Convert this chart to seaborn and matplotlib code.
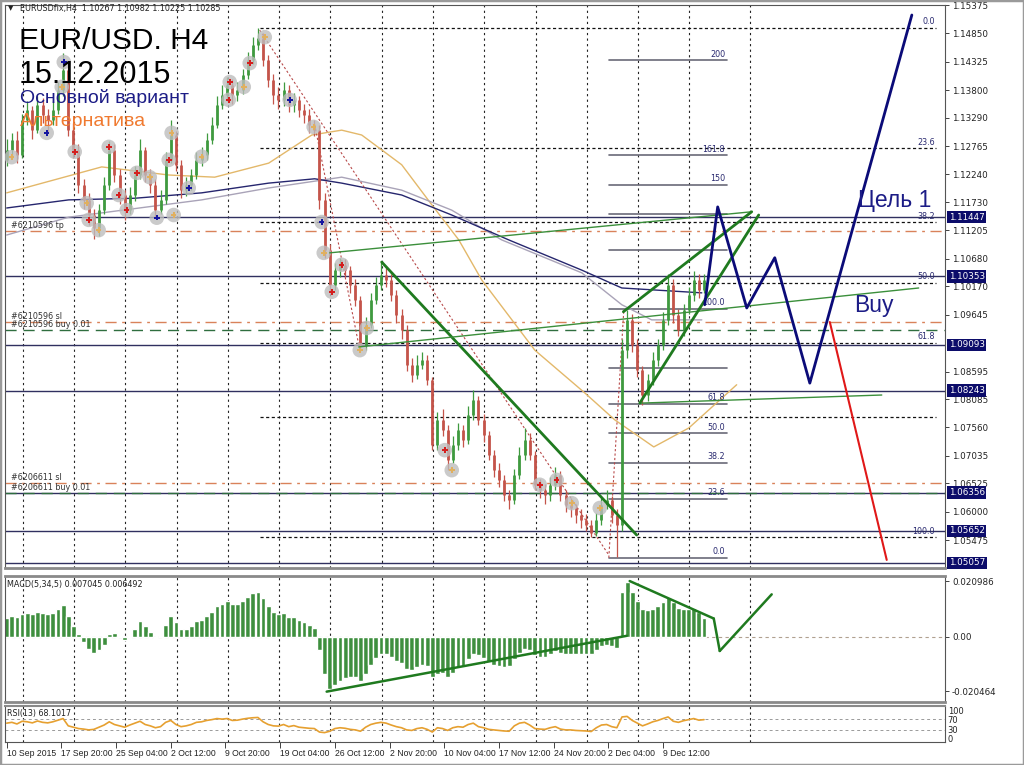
import numpy as np
import pandas as pd
import matplotlib
matplotlib.use("Agg")
import matplotlib.pyplot as plt
import matplotlib.transforms as mtransforms
from matplotlib.patches import Rectangle
import seaborn as sns

sns.set_theme(style="white")
plt.rcParams['font.family'] = ['DejaVu Sans']

# ---------------- data ----------------
BARS_PER_CANDLE = 3          # one drawn candle = 3 H4 bars
open_first = 1.1250
closes = [1.1269, 1.1288, 1.1260, 1.1325, 1.1343, 1.1306, 1.1353, 1.1334, 1.1325, 1.1343,
          1.1380, 1.1417, 1.1306, 1.1269, 1.1205, 1.1177, 1.1149, 1.1125, 1.1158, 1.1205,
          1.1269, 1.1223, 1.1186, 1.1158, 1.1186, 1.1223, 1.1269, 1.1223, 1.1205, 1.1158,
          1.1177, 1.1251, 1.1297, 1.1242, 1.1195, 1.1205, 1.1223, 1.1251, 1.1260, 1.1288,
          1.1316, 1.1353, 1.1371, 1.1390, 1.1371, 1.1380, 1.1408, 1.1436, 1.1464, 1.1477,
          1.1436, 1.1399, 1.1371, 1.1362, 1.1380, 1.1353, 1.1362, 1.1343, 1.1334, 1.1316,
          1.1306, 1.1177, 1.1084, 1.1020, 1.1047, 1.1057, 1.1047, 1.1020, 1.0992, 1.0909,
          1.0946, 1.0992, 1.1020, 1.1038, 1.1029, 1.1001, 1.0964, 1.0936, 1.0872, 1.0853,
          1.0872, 1.0881, 1.0844, 1.0724, 1.0770, 1.0751, 1.0696, 1.0724, 1.0751, 1.0733,
          1.0779, 1.0807, 1.0770, 1.0742, 1.0705, 1.0677, 1.0659, 1.0631, 1.0622, 1.0668,
          1.0705, 1.0733, 1.0705, 1.0650, 1.0640, 1.0631, 1.0650, 1.0668, 1.0631, 1.0613,
          1.0607, 1.0594, 1.0585, 1.0576, 1.0561, 1.0585, 1.0613, 1.0622, 1.0594, 1.0576,
          1.0899, 1.0955, 1.0909, 1.0862, 1.0816, 1.0844, 1.0881, 1.0909, 1.0955, 1.1020,
          1.0964, 1.0936, 1.0973, 1.1001, 1.1029, 1.1010, 1.1029]
highs = [1.1290, 1.1300, 1.1305, 1.1335, 1.1360, 1.1350, 1.1370, 1.1365, 1.1345, 1.1360,
         1.1395, 1.1449, 1.1430, 1.1320, 1.1280, 1.1215, 1.1190, 1.1160, 1.1170, 1.1220,
         1.1285, 1.1280, 1.1235, 1.1195, 1.1200, 1.1240, 1.1290, 1.1275, 1.1235, 1.1215,
         1.1195, 1.1265, 1.1325, 1.1305, 1.1250, 1.1220, 1.1235, 1.1265, 1.1275, 1.1300,
         1.1330, 1.1370, 1.1390, 1.1405, 1.1400, 1.1395, 1.1420, 1.1450, 1.1478, 1.1495,
         1.1485, 1.1445, 1.1410, 1.1385, 1.1395, 1.1390, 1.1375, 1.1370, 1.1355, 1.1345,
         1.1325, 1.1315, 1.1190, 1.1095, 1.1060, 1.1070, 1.1068, 1.1055, 1.1030, 1.1000,
         1.0960, 1.1005, 1.1035, 1.1062, 1.1055, 1.1040, 1.1010, 1.0975, 1.0945, 1.0885,
         1.0890, 1.0895, 1.0890, 1.0850, 1.0785, 1.0790, 1.0760, 1.0740, 1.0765, 1.0760,
         1.0795, 1.0825, 1.0815, 1.0780, 1.0750, 1.0715, 1.0690, 1.0668, 1.0640, 1.0680,
         1.0720, 1.0755, 1.0745, 1.0712, 1.0660, 1.0652, 1.0665, 1.0683, 1.0675, 1.0640,
         1.0625, 1.0615, 1.0605, 1.0595, 1.0585, 1.0598, 1.0625, 1.0640, 1.0630, 1.0605,
         1.0920, 1.0973, 1.0965, 1.0920, 1.0870, 1.0855, 1.0895, 1.0920, 1.0970, 1.1040,
         1.1030, 1.0975, 1.0985, 1.1015, 1.1045, 1.1040, 1.1040]
lows = [1.1240, 1.1255, 1.1245, 1.1255, 1.1315, 1.1290, 1.1300, 1.1320, 1.1300, 1.1315,
        1.1335, 1.1370, 1.1295, 1.1255, 1.1190, 1.1160, 1.1130, 1.1105, 1.1110, 1.1150,
        1.1195, 1.1210, 1.1170, 1.1140, 1.1150, 1.1175, 1.1215, 1.1210, 1.1190, 1.1145,
        1.1150, 1.1170, 1.1245, 1.1230, 1.1180, 1.1185, 1.1195, 1.1215, 1.1240, 1.1250,
        1.1280, 1.1310, 1.1345, 1.1360, 1.1355, 1.1360, 1.1372, 1.1400, 1.1428, 1.1455,
        1.1425, 1.1385, 1.1355, 1.1345, 1.1350, 1.1340, 1.1340, 1.1330, 1.1320, 1.1300,
        1.1295, 1.1160, 1.1070, 1.1005, 1.1010, 1.1035, 1.1035, 1.1005, 1.0980, 1.0897,
        1.0900, 1.0940, 1.0985, 1.1010, 1.1015, 1.0990, 1.0950, 1.0920, 1.0860, 1.0840,
        1.0845, 1.0865, 1.0835, 1.0715, 1.0715, 1.0740, 1.0677, 1.0690, 1.0715, 1.0720,
        1.0725, 1.0770, 1.0760, 1.0730, 1.0695, 1.0665, 1.0645, 1.0620, 1.0605, 1.0615,
        1.0660, 1.0695, 1.0695, 1.0640, 1.0625, 1.0615, 1.0620, 1.0640, 1.0620, 1.0600,
        1.0590, 1.0580, 1.0570, 1.0565, 1.0554, 1.0555, 1.0575, 1.0605, 1.0580, 1.0516,
        1.0565, 1.0885, 1.0895, 1.0850, 1.0798, 1.0805, 1.0835, 1.0870, 1.0900, 1.0945,
        1.0950, 1.0925, 1.0925, 1.0965, 1.0990, 1.0995, 1.1005]

macd_hist = [0.0070, 0.0080, 0.0075, 0.0085, 0.0090, 0.0085, 0.0095, 0.0090, 0.0085, 0.0090,
             0.0105, 0.0120, 0.0080, 0.0040, 0.0010, -0.0020, -0.0045, -0.0060, -0.0050, -0.0030,
             0.0010, 0.0015, 0.0005, -0.0010, 0.0005, 0.0030, 0.0060, 0.0040, 0.0020, -0.0005,
             0.0005, 0.0045, 0.0080, 0.0055, 0.0030, 0.0030, 0.0040, 0.0060, 0.0065, 0.0080,
             0.0095, 0.0115, 0.0125, 0.0135, 0.0125, 0.0125, 0.0135, 0.0150, 0.0165, 0.0170,
             0.0145, 0.0115, 0.0095, 0.0085, 0.0090, 0.0075, 0.0075, 0.0065, 0.0055, 0.0045,
             0.0035, -0.0050, -0.0140, -0.0195, -0.0180, -0.0165, -0.0155, -0.0150, -0.0150, -0.0165,
             -0.0140, -0.0105, -0.0080, -0.0065, -0.0065, -0.0075, -0.0090, -0.0100, -0.0120, -0.0125,
             -0.0115, -0.0105, -0.0110, -0.0150, -0.0140, -0.0135, -0.0150, -0.0135, -0.0115, -0.0110,
             -0.0085, -0.0065, -0.0070, -0.0080, -0.0095, -0.0105, -0.0110, -0.0115, -0.0110, -0.0085,
             -0.0060, -0.0045, -0.0050, -0.0070, -0.0075, -0.0075, -0.0065, -0.0055, -0.0060, -0.0065,
             -0.0065, -0.0065, -0.0065, -0.0065, -0.0065, -0.0050, -0.0035, -0.0030, -0.0035, -0.0040,
             0.0170, 0.0205, 0.0170, 0.0135, 0.0105, 0.0100, 0.0105, 0.0115, 0.0130, 0.0150,
             0.0130, 0.0110, 0.0105, 0.0105, 0.0110, 0.0095, 0.0070]

rsi = [55, 58, 52, 62, 60, 56, 63, 58, 56, 60, 66, 72,
       45, 40, 35, 33, 30, 32, 40, 48,
       60, 50, 45, 40, 48, 55, 62, 50, 45, 38, 42,
       58, 65, 50, 42, 45, 50, 58, 60, 65, 68,
       72, 70, 72, 65, 66, 70, 73, 75, 76,
       60, 50, 45, 44, 50, 42, 46, 40, 38, 36, 35,
       22, 20, 25, 35, 38, 36, 32, 30, 25,
       40, 50, 55, 58, 55, 48, 42, 38, 30, 28, 35, 38, 32,
       22, 38, 35, 28, 38, 42, 40, 50, 55, 42, 38, 32, 30, 28, 26, 25,
       45, 55, 58, 48, 35, 33, 32, 38, 42, 33, 30, 30, 28, 27, 26, 24, 38, 48, 50, 42, 38,
       78, 80, 65, 55, 45, 52, 60, 65, 72, 78, 62, 58, 64, 68, 72, 66, 68]

# moving averages (H4 bar index, price)
ma_tan_bar = [0, 55.6, 94.8, 121.7, 153.3, 178.5, 196.0, 207.7, 231.1, 248.7, 264.5, 277.9, 309.0, 338.2, 355.8, 378.6, 399.1, 427.1]
ma_tan_px = [1.1190, 1.1238, 1.1223, 1.1219, 1.1245, 1.1297, 1.1306, 1.1297, 1.1242, 1.1168, 1.1103, 1.1029, 1.0899, 1.0820, 1.0770, 1.0720, 1.0755, 1.0835]
ma_navy_bar = [0, 36.3, 74.9, 114.1, 153.3, 180.2, 196.0, 231.1, 260.4, 293.7, 336.5, 359.9, 406.7]
ma_navy_px = [1.1162, 1.1177, 1.1180, 1.1190, 1.1208, 1.1216, 1.1208, 1.1186, 1.1149, 1.1103, 1.1047, 1.1014, 1.1005]
ma_gray_bar = [0, 36.3, 114.1, 153.3, 196.0, 231.1, 260.4, 289.6, 336.5, 359.9, 377.4, 406.7]
ma_gray_px = [1.1112, 1.1145, 1.1177, 1.1199, 1.1219, 1.1195, 1.1158, 1.1103, 1.1042, 1.0983, 1.0955, 1.0955]

# horizontal levels
level_lines = [1.11447, 1.10353, 1.09093, 1.08243, 1.06356, 1.05652, 1.05057]
order_sl_tp = [1.1119, 1.0951, 1.0653]
order_open = [1.0936, 1.0635]

# Fibonacci retracement
fib_hi, fib_lo = 1.1495, 1.0553
fib_start, fib_end = 148.0, 544.0
fib_levels = [0.0, 23.6, 38.2, 50.0, 61.8, 76.4, 100.0]
fib_labels = ["0.0", "23.6", "38.2", "50.0", "61.8", "", "100.0"]
# Fibonacci extension
ext_lo, ext_hi = 1.0515, 1.0975
ext_start, ext_end = 352.3, 421.3
ext_levels = [0.0, 23.6, 38.2, 50.0, 61.8, 76.4, 100.0, 123.6, 138.2, 150.0, 161.8, 200.0]
ext_labels = ["0.0", "23.6", "38.2", "50.0", "61.8", "", "100.0", "", "", "150", "161.8", "200"]

# dotted diagonals (zigzag / fib anchors)
diag_lines = [((148.0, 1.1491), (352.3, 1.0520)),
              ((180.2, 1.1316), (206.6, 1.0899)),
              ((352.3, 1.0515), (361.1, 1.0975))]
# green trend lines: (p1, p2, thick)
trend_lines = [((219.4, 1.1062), (368.6, 1.0557), True),
               ((189.0, 1.1079), (435.9, 1.1155), False),
               ((206.0, 1.0905), (533.6, 1.1014), False),
               ((370.4, 1.0801), (512.0, 1.0816), False),
               ((360.8, 1.0970), (435.9, 1.1155), True),
               ((370.4, 1.0801), (440.0, 1.1149), True)]
main_path_bar = [408.4, 416.0, 433.0, 449.4, 469.9, 529.6]
main_path_px = [1.0983, 1.1164, 1.0977, 1.1070, 1.0838, 1.1519]
alt_path_bar = [481.6, 514.9]
alt_path_px = [1.0951, 1.0511]

macd_lines = [((187.2, -0.0206), (362.8, 0.0004)),
              ((364.5, 0.0210), (413.7, 0.0069)),
              ((413.7, 0.0069), (417.2, -0.0053)),
              ((417.2, -0.0053), (447.6, 0.0160))]

# trade markers (bar, price, kind)
mk_bar = [2.9, 23.4, 33.4, 32.2, 39.8, 46.8, 48.0, 53.8, 59.7, 65.5, 70.2, 76.1, 83.7, 87.8, 97.7,
          94.8, 96.5, 106.5, 114.1, 130.5, 129.9, 138.7, 142.2, 151.0, 165.6, 179.6, 184.3, 185.5,
          196.0, 190.2, 210.7, 206.6, 256.3, 260.4, 311.9, 321.8, 330.6, 347.0]
mk_px = [1.1256, 1.1301, 1.1432, 1.1386, 1.1266, 1.1171, 1.1140, 1.1121, 1.1275, 1.1186, 1.1158,
         1.1227, 1.1219, 1.1144, 1.1149, 1.1251, 1.1301, 1.1199, 1.1257, 1.1395, 1.1362, 1.1386,
         1.1430, 1.1478, 1.1362, 1.1312, 1.1136, 1.1079, 1.1057, 1.1007, 1.0940, 1.0899, 1.0714,
         1.0677, 1.0650, 1.0659, 1.0616, 1.0607]
mk_kind = ["tan", "blue", "blue", "tan", "red", "tan", "red", "tan", "red", "red", "red", "red",
           "tan", "blue", "tan", "red", "tan", "blue", "tan", "red", "red", "tan", "red", "tan",
           "blue", "tan", "blue", "tan", "red", "red", "tan", "tan", "red", "tan", "red", "red",
           "tan", "tan"]

price_ticks = [1.15375, 1.14850, 1.14325, 1.13800, 1.13290, 1.12765, 1.12240, 1.11730, 1.11205,
               1.10680, 1.10170, 1.09645, 1.08595, 1.08085, 1.07560, 1.07035, 1.06525, 1.06000, 1.05475]
date_tick_bars = [0, 32, 64, 96, 128, 160, 192, 224, 256, 288, 320, 352, 384]
date_labels = ["10 Sep 2015", "17 Sep 20:00", "25 Sep 04:00", "2 Oct 12:00", "9 Oct 20:00",
               "19 Oct 04:00", "26 Oct 12:00", "2 Nov 20:00", "10 Nov 04:00", "17 Nov 12:00",
               "24 Nov 20:00", "2 Dec 04:00", "9 Dec 12:00"]
grid_bars = [9.4, 39.4, 69.4, 99.4, 129.4, 159.4, 189.4, 219.4, 249.4, 279.4, 309.4, 339.4, 369.4, 399.4, 435.0]

# ---------------- figure ----------------
W, H = 1024, 765
fig = plt.figure(figsize=(W / 100, H / 100), dpi=100)
fig.patch.set_facecolor("white")

def fx(p):
    return p / W

def fy(p):
    return 1 - p / H

L, R = 5, 945
ax = fig.add_axes([fx(L), fy(568), fx(R) - fx(L), fy(5) - fy(568)])
axm = fig.add_axes([fx(L), fy(702), fx(R) - fx(L), fy(576) - fy(702)])
axr = fig.add_axes([fx(L), fy(742), fx(R) - fx(L), fy(706) - fy(742)])

XMIN, XMAX = -1, 549
for a in (ax, axm, axr):
    a.set_facecolor("white")
    a.set_xlim(XMIN, XMAX)
    for s in a.spines.values():
        s.set_color("#555555")
        s.set_linewidth(0.8)
    for g in grid_bars:
        a.axvline(g, color="#222222", lw=0.8, ls=(0, (2, 3)), zorder=0.5)
    a.yaxis.tick_right()
    a.tick_params(axis="y", which="both", direction="out", length=3, width=0.6, pad=2,
                  labelsize=6.3, colors="#222222", right=True, left=False)
    a.tick_params(axis="x", bottom=False, labelbottom=False)

ax.spines["bottom"].set_linewidth(2.0)
ax.spines["bottom"].set_color("#8a8a8a")
axm.spines["top"].set_linewidth(2.0)
axm.spines["top"].set_color("#8a8a8a")
axm.spines["bottom"].set_linewidth(2.0)
axm.spines["bottom"].set_color("#8a8a8a")
axr.spines["top"].set_linewidth(1.5)
axr.spines["top"].set_color("#8a8a8a")

# ---------------- main price panel ----------------
ax.set_ylim(1.0496, 1.15375)
ax.set_yticks(price_ticks)
ax.set_yticklabels([f"{p:.5f}" for p in price_ticks])

n = len(closes)
xs = np.arange(n) * BARS_PER_CANDLE
opens = [open_first] + closes[:-1]
up = np.array(closes) >= np.array(opens)
col = np.where(up, "#3f9a3f", "#c4544a")
ax.vlines(xs, lows, highs, colors=col, lw=0.9, zorder=3)
ax.vlines(xs, np.minimum(opens, closes), np.maximum(opens, closes), colors=col, lw=2.0, zorder=3)

# moving averages
sns.lineplot(x=ma_tan_bar, y=ma_tan_px, ax=ax, color="#e3b86a", lw=1.0, zorder=2)
sns.lineplot(x=ma_gray_bar, y=ma_gray_px, ax=ax, color="#a9a3b8", lw=1.0, zorder=2)
sns.lineplot(x=ma_navy_bar, y=ma_navy_px, ax=ax, color="#26266e", lw=1.0, zorder=2)

# horizontal levels
for lv in level_lines:
    ax.axhline(lv, color="#303060", lw=1.0, zorder=1)
for lv in order_sl_tp:
    ax.axhline(lv, color="#d9825a", lw=1.0, ls=(0, (8, 4, 2, 4)), zorder=1)
for lv in order_open:
    ax.axhline(lv, color="#2f6e3f", lw=1.0, ls=(0, (8, 5)), zorder=1)

# fib retracement
for lvl, lab in zip(fib_levels, fib_labels):
    p = fib_hi - (fib_hi - fib_lo) * lvl / 100
    ax.plot([fib_start, fib_end], [p, p], color="#111111", lw=0.9, ls=(0, (2.5, 2)), zorder=1.5)
    if lab:
        ax.text(fib_end - 1, p + 0.0003, lab, ha="right", va="bottom", fontsize=5.8, color="#2a2a70")
# fib extension
for lvl, lab in zip(ext_levels, ext_labels):
    p = ext_lo + (ext_hi - ext_lo) * lvl / 100
    ax.plot([ext_start, ext_end], [p, p], color="#6a6a78", lw=1.2, zorder=1.5)
    if lab:
        ax.text(ext_end - 1, p + 0.0003, lab, ha="right", va="bottom", fontsize=5.8, color="#2a2a70")

for (p1, p2) in diag_lines:
    ax.plot([p1[0], p2[0]], [p1[1], p2[1]], color="#b84a4a", lw=0.8, ls=(0, (2, 2)), zorder=2)

for (p1, p2, thick) in trend_lines:
    ax.plot([p1[0], p2[0]], [p1[1], p2[1]], color="#1f7a1f" if thick else "#3b8f3b",
            lw=2.0 if thick else 1.0, zorder=4)

# markers
mk_df = pd.DataFrame({"bar": mk_bar, "price": mk_px, "kind": mk_kind})
sns.scatterplot(data=mk_df, x="bar", y="price", ax=ax, s=110, color="#bdbdbd", alpha=0.8,
                edgecolor="none", zorder=3.5, legend=False)
sns.scatterplot(data=mk_df, x="bar", y="price", hue="kind", ax=ax, s=16, marker="P",
                palette={"red": "#d41f1f", "blue": "#1515a0", "tan": "#e0b060"},
                edgecolor="none", zorder=3.6, legend=False)

# projected paths
ax.plot(main_path_bar, main_path_px, color="#0b0b78", lw=2.0, zorder=5)
ax.plot(alt_path_bar, alt_path_px, color="#e01818", lw=1.5, zorder=5)

# level price boxes
btrans = mtransforms.blended_transform_factory(ax.transAxes, ax.transData)
for lv in level_lines:
    ax.text(1.004, lv, f"{lv:.5f}", transform=btrans, ha="left", va="center", fontsize=6.3,
            color="white", bbox=dict(boxstyle="square,pad=0.18", fc="#0c0c6a", ec="none"),
            clip_on=False, zorder=7)

# order labels
ltrans = mtransforms.blended_transform_factory(ax.transAxes, ax.transData)
ax.text(0.006, 1.1119 + 0.0002, "#6210596 tp", transform=ltrans, fontsize=5.8, color="#333333", va="bottom")
ax.text(0.006, 1.0951 + 0.0002, "#6210596 sl", transform=ltrans, fontsize=5.8, color="#333333", va="bottom")
ax.text(0.006, 1.0936 + 0.0002, "#6210596 buy 0.01", transform=ltrans, fontsize=5.8, color="#333333", va="bottom")
ax.text(0.006, 1.0653 + 0.0002, "#6206611 sl", transform=ltrans, fontsize=5.8, color="#333333", va="bottom")
ax.text(0.006, 1.0635 + 0.0002, "#6206611 buy 0.01", transform=ltrans, fontsize=5.8, color="#333333", va="bottom")

# ---------------- MACD ----------------
axm.set_ylim(-0.0245, 0.0229)
axm.bar(xs, macd_hist, width=2.8, color="#3e8f3e", zorder=2)
axm.axhline(0, color="#b0a090", lw=0.8, ls=(0, (3, 3)), zorder=1)
for (p1, p2) in macd_lines:
    axm.plot([p1[0], p2[0]], [p1[1], p2[1]], color="#1f7a1f", lw=1.8, zorder=4)
axm.set_yticks([0.020986, 0.0, -0.020464])
axm.set_yticklabels(["0.020986", "0.00", "-0.020464"])
axm.text(0.002, 0.97, "MACD(5,34,5) 0.007045 0.006492", transform=axm.transAxes, fontsize=5.8,
         color="#222222", va="top", ha="left")

# ---------------- RSI ----------------
axr.set_ylim(-14.8, 118.5)
axr.axhline(70, color="#9a9a9a", lw=0.7, ls=(0, (3, 3)))
axr.axhline(30, color="#9a9a9a", lw=0.7, ls=(0, (3, 3)))
sns.lineplot(x=xs, y=rsi, ax=axr, color="#e6a030", lw=1.2, zorder=3)
axr.set_yticks([100, 70, 30, 0])
axr.set_yticklabels(["100", "70", "30", "0"])
axr.tick_params(axis="y", labelsize=6.0, length=0)
axr.text(0.002, 0.92, "RSI(13) 68.1017", transform=axr.transAxes, fontsize=5.8, color="#222222",
         va="top", ha="left")

axr.set_xticks(date_tick_bars)
axr.set_xticklabels(date_labels)
axr.tick_params(axis="x", bottom=True, labelbottom=True, direction="out", length=4, width=0.6,
                labelsize=6.2, colors="#222222", pad=1)
for lab in axr.get_xticklabels():
    lab.set_horizontalalignment("left")
    lab.set_fontfamily("Liberation Sans")

for a in (ax, axm, axr):
    a.set_xlabel("")
    a.set_ylabel("")

# ---------------- texts ----------------
fig.text(fx(8), fy(8), "\u25BC", fontsize=5, va="center", ha="left", color="#222222")
fig.text(fx(20), fy(8), "EURUSDfix,H4  1.10267 1.10982 1.10225 1.10285", fontsize=5.8,
         va="center", ha="left", color="#222222")
fig.text(fx(19), fy(27), "EUR/USD. H4", fontsize=21.5, family="Liberation Sans", va="top", ha="left", color="black")
fig.text(fx(19), fy(60), "15.12.2015", fontsize=22, family="Liberation Sans", va="top", ha="left", color="black")
fig.text(fx(20), fy(89), "Основной вариант", fontsize=14, family="Liberation Sans", va="top", ha="left", color="#1c1c86")
fig.text(fx(20), fy(113), "Альтернатива", fontsize=14, family="Liberation Sans", va="top", ha="left", color="#f07a30")
fig.text(fx(858), fy(189), "Цель 1", fontsize=16.5, family="Liberation Sans", va="top", ha="left", color="#1c1c86")
fig.text(fx(854), fy(294), "Buy", fontsize=16.5, family="Liberation Sans", va="top", ha="left", color="#1c1c86")

fig.patches.append(Rectangle((0, 0), 1, 1, transform=fig.transFigure, fill=False,
                             ec="#9a9a9a", lw=2.5, zorder=10))

fig.savefig("out.png", dpi=100)
